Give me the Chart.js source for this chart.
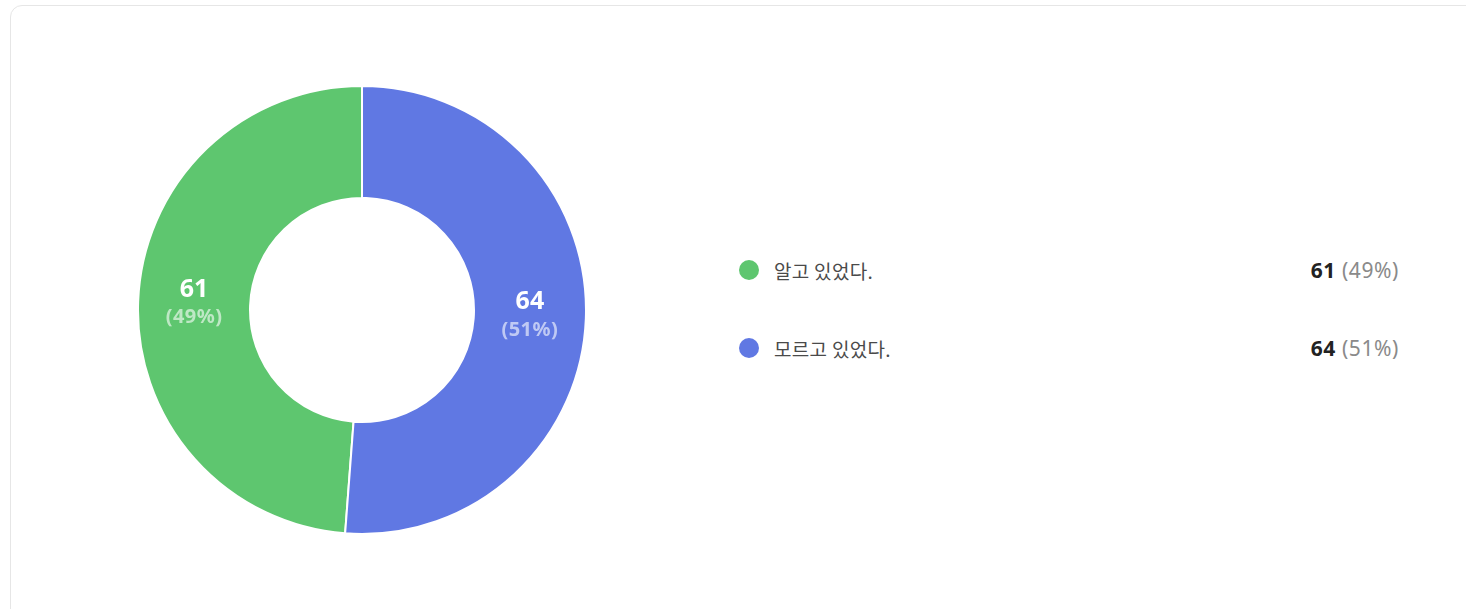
<!DOCTYPE html>
<html>
<head>
<meta charset="utf-8">
<script src="https://cdn.jsdelivr.net/npm/chart.js@4"></script>
<style>
  html, body { margin: 0; padding: 0; background: #fff; overflow: hidden; }
  body { width: 1466px; height: 609px; position: relative; font-family: "Noto Sans CJK KR", "Noto Sans", sans-serif; }
  .card {
    position: absolute; left: 10px; top: 5px; width: 1480px; height: 640px;
    border: 1px solid #e6e6e6; border-radius: 12px; box-sizing: border-box;
  }
  .chart-box { position: absolute; left: 137px; top: 85px; width: 450px; height: 450px; }
  .legend { position: absolute; left: 739px; top: 254px; width: 660px; }
  .legend-row { position: relative; height: 32px; margin-bottom: 46px; display: flex; align-items: center; }
  .dot { width: 20px; height: 20px; border-radius: 50%; margin-right: 15px; }
  .name { font-size: 19px; color: #4a4a4a; letter-spacing: 0.3px; }
  .val { position: absolute; right: 0; font-family: "Noto Sans", sans-serif; font-size: 21px; color: #222; letter-spacing: 0.6px; }
  .val b { font-weight: 700; }
  .val span { color: #8a8a8a; }
</style>
</head>
<body>
<div class="card"></div>
<div class="chart-box"><canvas id="pie"></canvas></div>
<div class="legend" id="legend"></div>
<script>
// answers and counts
const labels = ['알고 있었다.', '모르고 있었다.'];
const counts = [61, 64];
const percents = [49, 51];
const sliceColors = ['#5ec66f', '#6078e3'];

// labels drawn in the middle of each slice
const sliceLabels = {
  id: 'sliceLabels',
  afterDatasetsDraw(chart) {
    const ctx = chart.ctx;
    const meta = chart.getDatasetMeta(0);
    meta.data.forEach((arc, i) => {
      const p = arc.tooltipPosition();
      ctx.save();
      ctx.textAlign = 'center';
      ctx.textBaseline = 'middle';
      ctx.fillStyle = '#ffffff';
      ctx.font = 'bold 25px "Noto Sans", sans-serif';
      ctx.fillText(String(counts[i]), p.x, p.y - 14);
      ctx.fillStyle = 'rgba(255,255,255,0.6)';
      ctx.font = 'bold 20px "Noto Sans", sans-serif';
      ctx.letterSpacing = '0.5px';
      ctx.fillText('(' + percents[i] + '%)', p.x, p.y + 14);
      ctx.restore();
    });
  }
};

const total = counts.reduce((a, b) => a + b, 0);

new Chart(document.getElementById('pie'), {
  type: 'doughnut',
  data: {
    labels: labels,
    datasets: [{
      data: counts,
      backgroundColor: sliceColors,
      borderColor: '#ffffff',
      borderWidth: 2,
      hoverOffset: 0
    }]
  },
  options: {
    responsive: true,
    maintainAspectRatio: false,
    animation: false,
    cutout: '50%',
    // first answer ends at 12 o'clock, second starts there
    rotation: -(counts[0] / total) * 360,
    layout: { padding: 0 },
    plugins: {
      legend: { display: false },
      tooltip: { enabled: false }
    }
  },
  plugins: [sliceLabels]
});

// html legend
const legend = document.getElementById('legend');
labels.forEach((name, i) => {
  const row = document.createElement('div');
  row.className = 'legend-row';
  row.innerHTML = '<div class="dot" style="background:' + sliceColors[i] + '"></div>' +
    '<div class="name">' + name + '</div>' +
    '<div class="val"><b>' + counts[i] + '</b> <span>(' + percents[i] + '%)</span></div>';
  legend.appendChild(row);
});
</script>
</body>
</html>
